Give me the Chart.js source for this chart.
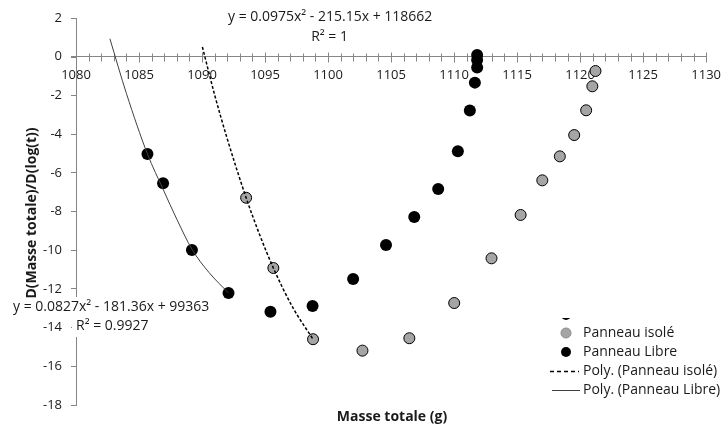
<!DOCTYPE html>
<html>
<head>
<meta charset="utf-8">
<script src="https://cdn.jsdelivr.net/npm/chart.js@4.4.0/dist/chart.umd.min.js"></script>
<style>
  html, body { margin: 0; padding: 0; background: #fff; }
  #wrap { width: 724px; height: 428px; position: relative; }
</style>
</head>
<body>
<div id="wrap"><canvas id="chart" width="724" height="428"></canvas></div>
<script>
// Valeurs
const isoleX = [1093.50, 1095.66, 1098.81, 1102.73, 1106.45, 1110.01, 1112.97, 1115.28, 1117.00, 1118.39, 1119.53, 1120.48, 1120.97, 1121.22];
const isoleY = [-7.29, -10.92, -14.60, -15.19, -14.55, -12.73, -10.42, -8.18, -6.39, -5.15, -4.05, -2.77, -1.53, -0.74];

const libreX = [1085.67, 1086.91, 1089.20, 1092.10, 1095.43, 1098.77, 1101.99, 1104.60, 1106.84, 1108.74, 1110.30, 1111.25, 1111.65, 1111.83, 1111.83, 1111.83];
const libreY = [-5.03, -6.54, -9.99, -12.21, -13.18, -12.88, -11.49, -9.73, -8.28, -6.84, -4.89, -2.78, -1.34, -0.56, -0.17, 0.09];

// courbes de tendance
const polyIsoleX = [1090.03, 1091.00, 1092.00, 1093.50, 1094.50, 1095.66, 1097.20, 1098.81];
const polyIsoleY = [0.50, -1.97, -4.24, -7.29, -9.08, -10.92, -12.96, -14.60];
const polyLibreX = [1082.69, 1084.00, 1085.67, 1086.91, 1088.00, 1089.20, 1090.55, 1092.10];
const polyLibreY = [0.93, -1.90, -5.03, -6.85, -8.40, -9.95, -11.15, -12.21];

const xMin = 1080, xMax = 1130, xStep = 5;
const yMin = -18, yMax = 2, yStep = 2;

const eqIsole = 'y = 0.0975x² - 215.15x + 118662';
const r2Isole = 'R² = 1';
const eqLibre = 'y = 0.0827x² - 181.36x + 99363';
const r2Libre = 'R² = 0.9927';

const FONT = '"Open Sans", "Noto Sans", sans-serif';
const AXIS = '#868686';
const TEXT = '#1a1a1a';

const pairs = (xs, ys) => xs.map((x, i) => ({ x, y: ys[i] }));

// petites graduations croisées sur l'axe des x
const crossTicks = {
  id: 'crossTicks',
  beforeDatasetsDraw(chart) {
    const { ctx, scales: { x, y } } = chart;
    const y0 = Math.round(y.getPixelForValue(0)) + 0.5;
    ctx.save();
    ctx.strokeStyle = AXIS;
    ctx.lineWidth = 1;
    ctx.beginPath();
    for (let v = xMin + 1; v <= xMax; v++) {
      const px = Math.round(x.getPixelForValue(v)) + 0.5;
      const h = v % xStep === 0 ? 5 : 4;
      ctx.moveTo(px, y0 - h);
      ctx.lineTo(px, y0 + h);
    }
    // l'axe déborde un peu à gauche
    const x0 = Math.round(x.getPixelForValue(xMin));
    ctx.moveTo(x0 - 5, y0);
    ctx.lineTo(x0, y0);
    ctx.stroke();
    ctx.restore();
  }
};

// textes, équations et légende
const overlay = {
  id: 'overlay',
  afterDraw(chart) {
    const ctx = chart.ctx;
    ctx.save();
    ctx.fillStyle = TEXT;
    ctx.textBaseline = 'middle';

    // équation panneau isolé
    ctx.font = '14px ' + FONT;
    ctx.textAlign = 'left';
    ctx.fillText(eqIsole, 228, 17);
    ctx.textAlign = 'right';
    ctx.fillText(r2Isole, 348, 37);

    // équation panneau libre (fond blanc derrière le texte)
    ctx.fillStyle = '#fff';
    ctx.fillRect(10, 297, 206, 20);
    ctx.fillRect(72, 317, 82, 20);
    ctx.fillStyle = TEXT;
    ctx.textAlign = 'left';
    ctx.fillText(eqLibre, 13, 307);
    ctx.fillText(r2Libre, 76, 326);

    // titres des axes
    ctx.font = 'bold 14px ' + FONT;
    ctx.textAlign = 'center';
    ctx.fillText('Masse totale (g)', 392, 417);
    ctx.save();
    ctx.translate(32, 213);
    ctx.rotate(-Math.PI / 2);
    ctx.fillText('D(Masse totale)/D(log(t))', 0, 0);
    ctx.restore();

    // légende
    ctx.fillStyle = '#fff';
    ctx.fillRect(546, 318, 178, 84);
    ctx.font = '14px ' + FONT;
    ctx.textAlign = 'left';

    // entrée tronquée en haut
    ctx.save();
    ctx.beginPath();
    ctx.rect(546, 318, 178, 10);
    ctx.clip();
    ctx.fillStyle = '#000';
    ctx.beginPath();
    ctx.arc(566, 315, 5, 0, Math.PI * 2);
    ctx.fill();
    ctx.fillStyle = TEXT;
    ctx.fillText('Panneau Libre', 583, 314);
    ctx.restore();

    ctx.fillStyle = '#a5a5a5';
    ctx.strokeStyle = '#8c8c8c';
    ctx.lineWidth = 1;
    ctx.beginPath();
    ctx.arc(566, 333, 5, 0, Math.PI * 2);
    ctx.fill();
    ctx.stroke();
    ctx.fillStyle = TEXT;
    ctx.fillText('Panneau isolé', 583, 333);

    ctx.fillStyle = '#000';
    ctx.beginPath();
    ctx.arc(566, 352, 5, 0, Math.PI * 2);
    ctx.fill();
    ctx.fillStyle = TEXT;
    ctx.fillText('Panneau Libre', 583, 352);

    ctx.strokeStyle = '#000';
    ctx.lineWidth = 1.5;
    ctx.setLineDash([4, 3]);
    ctx.beginPath();
    ctx.moveTo(550, 371.5);
    ctx.lineTo(579, 371.5);
    ctx.stroke();
    ctx.setLineDash([]);
    ctx.fillText('Poly. (Panneau isolé)', 583, 371);

    ctx.strokeStyle = '#404040';
    ctx.lineWidth = 1;
    ctx.beginPath();
    ctx.moveTo(552, 390.5);
    ctx.lineTo(580, 390.5);
    ctx.stroke();
    ctx.fillText('Poly. (Panneau Libre)', 583, 390);

    ctx.restore();
  }
};

const canvas = document.getElementById('chart');
new Chart(canvas.getContext('2d'), {
  type: 'scatter',
  data: {
    datasets: [
      {
        label: 'Poly. (Panneau isolé)',
        data: pairs(polyIsoleX, polyIsoleY),
        showLine: true,
        borderColor: '#000',
        borderWidth: 1.5,
        borderDash: [3, 2],
        pointRadius: 0,
        cubicInterpolationMode: 'monotone',
      },
      {
        label: 'Poly. (Panneau Libre)',
        data: pairs(polyLibreX, polyLibreY),
        showLine: true,
        borderColor: '#404040',
        borderWidth: 1,
        pointRadius: 0,
        cubicInterpolationMode: 'monotone',
      },
      {
        label: 'Panneau isolé',
        data: pairs(isoleX, isoleY),
        backgroundColor: '#a5a5a5',
        borderColor: '#000',
        borderWidth: 1,
        pointRadius: 5.5,
      },
      {
        label: 'Panneau Libre',
        data: pairs(libreX, libreY),
        backgroundColor: '#000',
        borderColor: '#000',
        borderWidth: 0,
        pointRadius: 6,
      },
    ],
  },
  options: {
    responsive: false,
    animation: false,
    layout: { padding: { left: 0, top: 18, right: 16, bottom: 23 } },
    plugins: {
      legend: { display: false },
      tooltip: { enabled: false },
    },
    scales: {
      x: {
        type: 'linear',
        position: { y: 0 },
        min: xMin,
        max: xMax,
        grid: { display: false, drawTicks: true, tickLength: 8 },
        border: { display: true, color: AXIS, width: 1 },
        ticks: {
          stepSize: xStep,
          padding: 3,
          color: TEXT,
          font: { family: FONT, size: 13 },
          maxRotation: 0,
          callback: (v) => String(v),
        },
      },
      y: {
        type: 'linear',
        position: 'left',
        min: yMin,
        max: yMax,
        afterFit: (scale) => { scale.width = 76; },
        grid: { drawOnChartArea: false, color: AXIS, tickLength: 5 },
        border: { display: true, color: AXIS, width: 1 },
        ticks: {
          stepSize: yStep,
          padding: 9,
          color: TEXT,
          font: { family: FONT, size: 13 },
          callback: (v) => String(v),
        },
      },
    },
  },
  plugins: [crossTicks, overlay],
});
</script>
</body>
</html>
